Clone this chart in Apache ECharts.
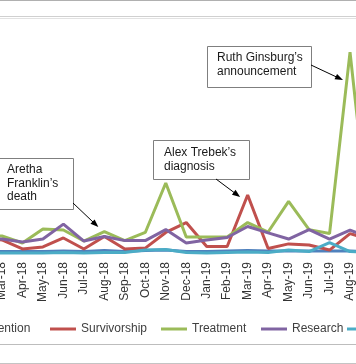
<!DOCTYPE html>
<html><head><meta charset="utf-8">
<script src="https://cdn.jsdelivr.net/npm/echarts@6/dist/echarts.min.js"></script>
<style>html,body{margin:0;padding:0;background:#fff}#c{width:356px;height:364px}</style>
</head><body><div id="c"></div>
<script>
const categories = ['Feb-18','Mar-18','Apr-18','May-18','Jun-18','Jul-18','Aug-18','Sep-18','Oct-18','Nov-18','Dec-18','Jan-19','Feb-19','Mar-19','Apr-19','May-19','Jun-19','Jul-19','Aug-19','Sep-19'];
const seriesNames = ['Prevention','Survivorship','Treatment','Research','Other'];
const prevention   = [2.0,2.0,2.0,2.0,2.3,2.0,2.5,2.0,2.5,2.7,2.0,2.0,2.3,2.5,2.3,2.3,2.3,2.3,2.3,2.0];
const survivorship = [7.7,7.3,3.2,4.1,8.2,3.2,8.9,3.2,3.6,10.7,15.2,4.3,4.3,27.7,3.4,5.5,5.0,2.7,10.2,7.3];
const treatment    = [9.1,9.1,5.9,12.3,11.8,6.8,11.1,7.0,10.7,33.2,8.6,8.6,8.6,15.2,10.9,24.8,12.0,10.2,92.7,7.3];
const research     = [7.7,7.7,6.4,7.7,14.5,6.8,8.9,7.0,7.0,12.0,5.9,7.3,8.4,13.4,10.5,7.7,12.0,7.7,11.8,8.2];
const other        = [1.4,1.4,1.4,1.4,1.6,1.4,1.6,1.6,2.7,3.0,1.6,1.4,1.6,1.8,1.6,2.7,2.0,6.1,2.0,1.6];
const colors = ['#4F81BD','#C0504D','#9BBB59','#8064A2','#4BACC6'];
const allData = [prevention, survivorship, treatment, research, other];
const annotations = [
  {lines:['Aretha','Franklin\u2019s','death'], series:2, cat:'Aug-18'},
  {lines:['Alex Trebek\u2019s','diagnosis'], series:1, cat:'Mar-19'},
  {lines:['Ruth Ginsburg\u2019s','announcement'], series:2, cat:'Aug-19'}
];
const FONT = '"Liberation Sans", Arial, sans-serif';
const chart = echarts.init(document.getElementById('c'), null, {renderer:'canvas'});
const legendPos = [{left:-63}, {left:45}, {left:156}, {left:256}, {right:-57}];
chart.setOption({
  animation:false,
  color: colors,
  grid:{left:-18.5, right:-14.5, top:36, bottom:108, outerBoundsMode:'none', containLabel:false},
  xAxis:{type:'category', data:categories, boundaryGap:false,
    axisLine:{show:false}, axisTick:{show:false}, splitLine:{show:false},
    axisLabel:{rotate:90, interval:0, fontSize:12, color:'#333333', margin:6, fontFamily:FONT}},
  yAxis:{type:'value', min:0, max:100, show:false},
  legend: seriesNames.map((n,i)=>Object.assign({data:[n], top:318, width:300, icon:'rect', itemWidth:26, itemHeight:3,
    textStyle:{fontSize:12, color:'#404040', fontFamily:FONT}, selectedMode:false}, legendPos[i])),
  series: seriesNames.map((n,i)=>({name:n, type:'line', data:allData[i], symbol:'none', smooth:false,
    lineStyle:{width:3, color:colors[i]}, itemStyle:{color:colors[i]}}))
});

function px(cat, s){ const idx = categories.indexOf(cat); return chart.convertToPixel({gridIndex:0}, [idx, allData[s][idx]]); }
const boxes = [
  {x:-10, y:158, w:83, h:51, tx:7, ty:163, start:[73,203], off:[-6,-4.5]},
  {x:153, y:140, w:96, h:39, tx:164, ty:146, start:[216,179], off:[-7.5,2]},
  {x:207, y:46, w:104, h:41, tx:217, ty:51, start:[311,65], off:[-7,28]}
];
const g = [];
[[0.5,'#b0b0b0'],[16.5,'#d0d0d0'],[18.5,'#e2e2e2'],[344.5,'#bdbdbd'],[363.5,'#c4c4c4']].forEach(([y,c])=>{
  g.push({type:'line', shape:{x1:0,y1:y,x2:356,y2:y}, style:{stroke:c, lineWidth:1}, z:100});
});
annotations.forEach((a,i)=>{
  const b = boxes[i];
  g.push({type:'rect', shape:{x:b.x+0.5,y:b.y+0.5,width:b.w,height:b.h}, style:{fill:'#fff', stroke:'#7f7f7f', lineWidth:1}, z:100});
  g.push({type:'text', x:b.tx, y:b.ty, style:{text:a.lines.join('\n'), font:'12px '+FONT, fill:'#1a1a1a', lineHeight:13.5}, z:101});
  const p = px(a.cat, a.series);
  const T = [p[0]+b.off[0], p[1]+b.off[1]];
  const S = b.start;
  const dx = T[0]-S[0], dy = T[1]-S[1], len = Math.hypot(dx,dy);
  const ux = dx/len, uy = dy/len, nx = -uy, ny = ux, L = 8, W = 6;
  g.push({type:'line', shape:{x1:S[0],y1:S[1],x2:T[0]-ux*L*0.7,y2:T[1]-uy*L*0.7}, style:{stroke:'#000', lineWidth:1}, z:101});
  g.push({type:'polygon', shape:{points:[T,[T[0]-ux*L+nx*W/2, T[1]-uy*L+ny*W/2],[T[0]-ux*L-nx*W/2, T[1]-uy*L-ny*W/2]]}, style:{fill:'#000'}, z:101});
});
chart.setOption({graphic:g});
</script></body></html>
